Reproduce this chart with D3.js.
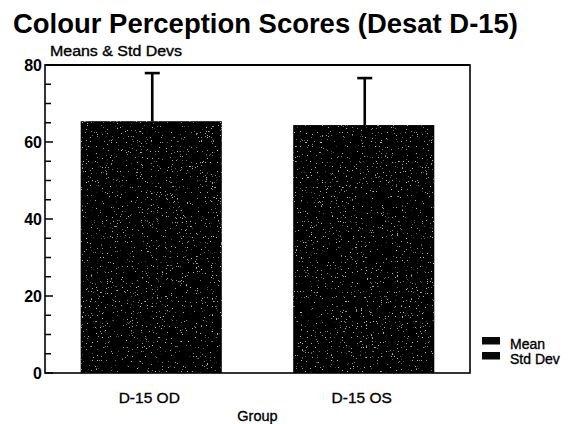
<!DOCTYPE html>
<html>
<head>
<meta charset="utf-8">
<script src="https://cdn.jsdelivr.net/npm/d3@7/dist/d3.min.js"></script>
<style>
  html, body { margin: 0; padding: 0; background: #fff; }
  svg { display: block; font-family: "Liberation Sans", Arial, sans-serif; }
  .heavy { stroke: #000; stroke-width: 0.35px; }
</style>
</head>
<body>
<svg id="chart" width="571" height="424"></svg>
<script>
// Desaturated D-15 results per eye
const groups = ["D-15 OD", "D-15 OS"];
const means = [65.4, 64.4];
const stdDevs = [12.5, 12.2];
const yTicks = [0, 20, 40, 60, 80];
const legendItems = ["Mean", "Std Dev"];

const svg = d3.select("#chart");
const plot = { left: 45, right: 470, top: 65, bottom: 373 };

const x = d3.scaleBand().domain(groups).range([plot.left, plot.right]).paddingInner(0.336).paddingOuter(0.168);
const y = d3.scaleLinear().domain([0, 80]).range([plot.bottom, plot.top]);

// Sparse grain used on the bar fill
const defs = svg.append("defs");
const grain = defs.append("filter").attr("id", "grain").attr("x", 0).attr("y", 0).attr("width", 1).attr("height", 1);
grain.append("feTurbulence").attr("type", "fractalNoise").attr("baseFrequency", 0.8).attr("numOctaves", 2).attr("seed", 7).attr("result", "noise");
grain.append("feColorMatrix").attr("in", "noise").attr("type", "matrix")
  .attr("values", "0 0 0 0 0.45  0 0 0 0 0.45  0 0 0 0 0.45  0 0 0 14 -9.9").attr("result", "dots");
grain.append("feComposite").attr("in", "dots").attr("in2", "SourceGraphic").attr("operator", "in").attr("result", "dotsIn");
grain.append("feMerge").call(m => { m.append("feMergeNode").attr("in", "SourceGraphic"); m.append("feMergeNode").attr("in", "dotsIn"); });

// Title and subtitle
svg.append("text").attr("x", 13).attr("y", 33)
  .attr("font-size", 27).attr("font-weight", "bold")
  .attr("textLength", 505).attr("lengthAdjust", "spacingAndGlyphs")
  .text("Colour Perception Scores (Desat D-15)");
svg.append("text").attr("class", "heavy").attr("x", 50).attr("y", 56)
  .attr("font-size", 14).attr("textLength", 132).attr("lengthAdjust", "spacingAndGlyphs")
  .text("Means & Std Devs");

// Bars
svg.selectAll("rect.bar").data(groups).join("rect")
  .attr("class", "bar")
  .attr("x", d => x(d)).attr("width", x.bandwidth())
  .attr("y", (d, i) => y(means[i]))
  .attr("height", (d, i) => y(0) - y(means[i]))
  .attr("fill", "#060606")
  .attr("filter", "url(#grain)");

// Standard deviation whiskers (upper only)
const eb = svg.append("g").attr("stroke", "#000").attr("stroke-width", 2.6);
groups.forEach((g, i) => {
  const cx = x(g) + x.bandwidth() / 2 + 1;
  const top = y(means[i] + stdDevs[i]);
  eb.append("line").attr("x1", cx).attr("x2", cx).attr("y1", y(means[i])).attr("y2", top);
  eb.append("line").attr("x1", cx - 7.5).attr("x2", cx + 7.5).attr("y1", top).attr("y2", top);
});

// Plot frame
svg.append("rect").attr("x", plot.left).attr("y", plot.top)
  .attr("width", plot.right - plot.left).attr("height", plot.bottom - plot.top)
  .attr("fill", "none").attr("stroke", "#000").attr("stroke-width", 1.6);
svg.append("line").attr("x1", plot.left).attr("x2", plot.right).attr("y1", plot.top).attr("y2", plot.top)
  .attr("stroke", "#000").attr("stroke-width", 2.2);

// Y axis: labels, major and minor ticks pointing inward
const yAxis = svg.append("g").attr("transform", `translate(${plot.left},0)`)
  .call(d3.axisLeft(y).tickValues(yTicks).tickSize(0).tickPadding(3).tickFormat(d3.format("d")));
yAxis.select(".domain").remove();
yAxis.selectAll("text").attr("font-size", 16).attr("font-weight", "bold")
  .attr("font-family", "Liberation Sans, Arial, sans-serif");
const minor = d3.range(0, 81, 5);
svg.append("g").selectAll("line").data(minor).join("line")
  .attr("x1", plot.left).attr("x2", d => plot.left + (d % 20 === 0 ? 8 : 6))
  .attr("y1", d => y(d)).attr("y2", d => y(d))
  .attr("stroke", "#000").attr("stroke-width", 1.5);

// X axis labels
const xAxis = svg.append("g").attr("transform", `translate(0,${plot.bottom})`)
  .call(d3.axisBottom(x).tickSize(0).tickPadding(19));
xAxis.select(".domain").remove();
xAxis.selectAll("text").attr("font-size", 15.5).attr("class", "heavy")
  .attr("font-family", "Liberation Sans, Arial, sans-serif")
  .attr("dx", -2);
svg.append("text").attr("class", "heavy").attr("x", (plot.left + plot.right) / 2).attr("y", 421)
  .attr("text-anchor", "middle").attr("font-size", 14.5).text("Group");

// Legend
const leg = svg.append("g").attr("transform", "translate(482,337)");
legendItems.forEach((t, i) => {
  leg.append("rect").attr("x", 0).attr("y", i * 15).attr("width", 18).attr("height", 7.5).attr("fill", "#080808");
  leg.append("text").attr("class", "heavy").attr("x", 28).attr("y", i * 15 + 12).attr("font-size", 14).text(t);
});
</script>
</body>
</html>
